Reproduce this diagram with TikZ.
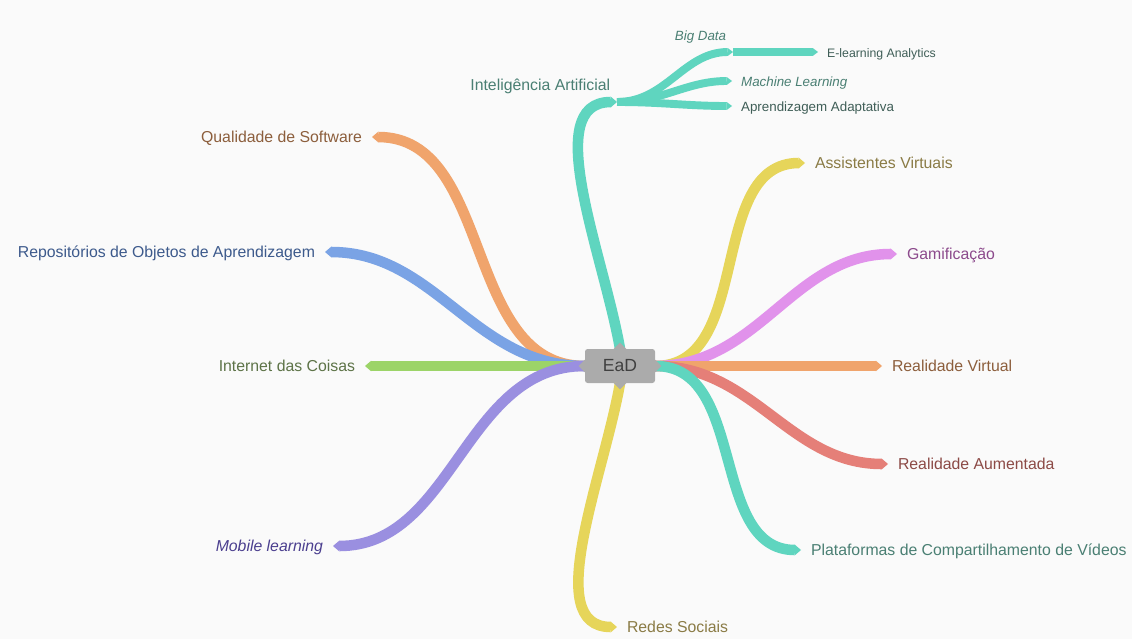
\documentclass[tikz,border=0pt]{standalone}
\usepackage{fontspec}
\setmainfont{Liberation Sans}
\usetikzlibrary{arrows.meta,calc}

\definecolor{bgcol}{HTML}{FAFAFA}
\definecolor{eadgray}{HTML}{ABABAB}
\definecolor{tealB}{HTML}{5FD5BF}
\definecolor{orangeB}{HTML}{F0A46C}
\definecolor{blueB}{HTML}{7AA3E5}
\definecolor{greenB}{HTML}{9CD468}
\definecolor{purpleB}{HTML}{9A8FE0}
\definecolor{yellowB}{HTML}{E6D55A}
\definecolor{pinkB}{HTML}{E192EB}
\definecolor{redB}{HTML}{E57F78}
\definecolor{tealT}{HTML}{4A7F73}
\definecolor{tealD}{HTML}{3F5E57}
\definecolor{orangeT}{HTML}{8C5E3C}
\definecolor{blueT}{HTML}{3D5A8C}
\definecolor{greenT}{HTML}{5D7347}
\definecolor{purpleT}{HTML}{4B3F8F}
\definecolor{yellowT}{HTML}{8A7B45}
\definecolor{pinkT}{HTML}{8C4A8C}
\definecolor{redT}{HTML}{8C4A46}

\begin{document}
\begin{tikzpicture}[x=0.02cm,y=-0.02cm,
  every node/.style={font=\fontsize{9}{11}\selectfont,text height=1.5ex,text depth=.25ex},
  main node/.style={fill=eadgray,text=black!75,rounded corners=1.5pt,minimum width=1.4cm,minimum height=0.68cm,font=\fontsize{10}{12}\selectfont},
  topic/.style={inner xsep=5.5pt,inner ysep=2pt},
  subtopic/.style={topic,inner xsep=5pt,font=\fontsize{7.6}{9}\selectfont},
  branch/.style={line width=6pt,-{Triangle[length=3.5pt,width=6pt,line width=0pt]}},
  twig/.style={line width=4.5pt,-{Triangle[length=3pt,width=4.5pt,line width=0pt]}}]

  \fill[bgcol] (0,0) rectangle (1132,639);
  \useasboundingbox (0,0) rectangle (1132,639);

  \node[main node] (ead) at (620,366) {EaD};

  % left side
  \node[topic,anchor=east,text=orangeT] (qs) at (372,137) {Qualidade de Software};
  \node[topic,anchor=east,text=blueT] (roa) at (325,252) {Repositórios de Objetos de Aprendizagem};
  \node[topic,anchor=east,text=greenT] (iot) at (365,366) {Internet das Coisas};
  \node[topic,anchor=east,text=purpleT,font=\fontsize{9}{11}\selectfont\itshape] (mob) at (333,546) {Mobile learning};
  \node[topic,anchor=west,text=yellowT] (rs) at (617,627) {Redes Sociais};

  % right side
  \node[topic,anchor=west,text=yellowT] (av) at (805,163) {Assistentes Virtuais};
  \node[topic,anchor=west,text=pinkT] (gam) at (897,254) {Gamificação};
  \node[topic,anchor=west,text=orangeT] (rv) at (882,366) {Realidade Virtual};
  \node[topic,anchor=west,text=redT] (ra) at (888,464) {Realidade Aumentada};
  \node[topic,anchor=west,text=tealT] (pcv) at (801,550) {Plataformas de Compartilhamento de Vídeos};

  % inteligencia artificial
  \coordinate (ia-tip) at (617,102);
  \coordinate (bd-tip) at (733,52);
  \node[topic,anchor=east,inner xsep=2pt,text=tealT] (ia) at (614,85) {Inteligência Artificial};
  \node[subtopic,anchor=east,inner xsep=2pt,text=tealT,font=\fontsize{7.6}{9}\selectfont\itshape] (bd) at (730,35) {Big Data};
  \node[subtopic,anchor=west,text=tealT,font=\fontsize{7.6}{9}\selectfont\itshape] (ml) at (732,81) {Machine Learning};
  \node[subtopic,anchor=west,text=tealD] (aa) at (732,106) {Aprendizagem Adaptativa};
  \node[subtopic,anchor=west,text=tealD,font=\fontsize{7}{9}\selectfont] (ela) at (818,52) {E-learning Analytics};

  \path
    (ead.north) edge[branch,tealB,out=100,in=180,in looseness=0.8] (ia-tip)
    (ead.west) edge[branch,orangeB,out=180,in=0] (qs.east)
    (ead.west) edge[branch,blueB,out=180,in=0] (roa.east)
    (ead.west) edge[branch,greenB] (iot.east)
    (ead.west) edge[branch,purpleB,out=180,in=0] (mob.east)
    (ead.south) edge[branch,yellowB,out=260,in=180,in looseness=0.8] (rs.west)
    (ead.east) edge[branch,yellowB,out=0,in=180] (av.west)
    (ead.east) edge[branch,pinkB,out=0,in=180] (gam.west)
    (ead.east) edge[branch,orangeB] (rv.west)
    (ead.east) edge[branch,redB,out=0,in=180] (ra.west)
    (ead.east) edge[branch,tealB,out=0,in=180] (pcv.west);

  \path
    (ia-tip) edge[twig,tealB,out=0,in=180] (bd-tip)
    (ia-tip) edge[twig,tealB,out=0,in=180] (ml.west)
    (ia-tip) edge[twig,tealB,out=0,in=180] (aa.west)
    (bd-tip) edge[twig,tealB] (ela.west);

  % pointers of the centre box
  \fill[eadgray] ($(ead.west)+(1,-7)$) -- ($(ead.west)+(-6,0)$) -- ($(ead.west)+(1,7)$) -- cycle;
  \fill[eadgray] ($(ead.east)+(-1,-7)$) -- ($(ead.east)+(6,0)$) -- ($(ead.east)+(-1,7)$) -- cycle;
  \fill[eadgray] ($(ead.north)+(-7,1)$) -- ($(ead.north)+(0,-6)$) -- ($(ead.north)+(7,1)$) -- cycle;
  \fill[eadgray] ($(ead.south)+(-7,-1)$) -- ($(ead.south)+(0,6)$) -- ($(ead.south)+(7,-1)$) -- cycle;
\end{tikzpicture}
\end{document}
